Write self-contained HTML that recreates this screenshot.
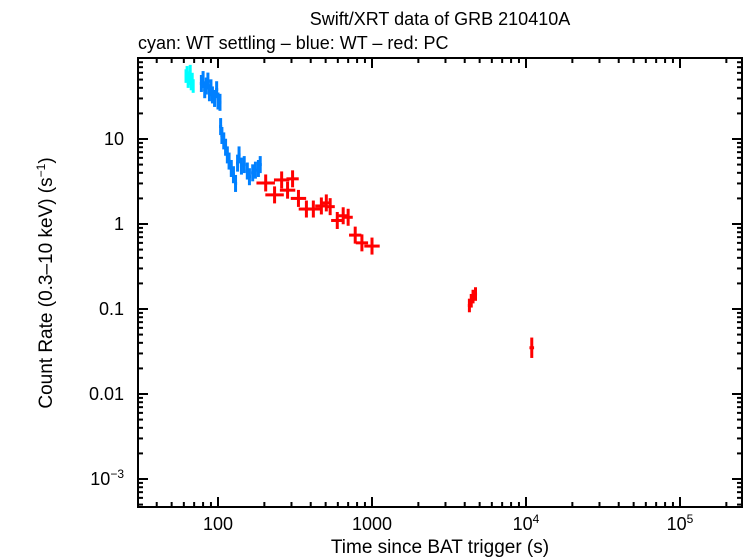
<!DOCTYPE html>
<html><head><meta charset="utf-8"><style>
body{margin:0;background:#fff}
svg{display:block;font-family:"Liberation Sans",sans-serif}
</style></head><body>
<svg id="chart" width="746" height="558" viewBox="0 0 746 558">
<text x="440" y="25" font-size="18" text-anchor="middle">Swift/XRT data of GRB 210410A</text>
<text x="138" y="49" font-size="18">cyan: WT settling – blue: WT – red: PC</text>
<text x="440" y="553" font-size="19" text-anchor="middle">Time since BAT trigger (s)</text>
<text transform="translate(52,283) rotate(-90)" font-size="19" text-anchor="middle">Count Rate (0.3–10 keV) (s<tspan font-size="12" dy="-7">−1</tspan><tspan dy="7">)</tspan></text>
<g id="axes"></g>
<g id="marks"></g>
<rect x="138" y="58" width="604" height="449" fill="none" stroke="#000" stroke-width="2"/>
</svg>
<script>
const cyanT=[62,63,64,65,66,67,68,69];
const cyanR=[55,60,48,52,62,45,50,42];
const blueT=[78,80,82,84,86,88,90,92,95,98,100,103,104,106,109,112,115,118,122,126,130,134,137,142,148,155,160,168,175,183,188];
const blueR=[45,50,38,42,48,35,40,33,30,38,28,27,14,11,9.5,8,6.5,5.5,4.5,3.8,3.0,5.2,6.5,4.8,5,4.2,3.6,4.0,4.3,4.5,5];
const redT=[204,233,259,283,305,333,375,416,469,505,535,595,650,700,778,860,1000,4290,4410,4530,4700,10900];
const redR=[3.04,2.2,3.3,2.5,3.4,2.0,1.5,1.5,1.63,1.77,1.6,1.1,1.25,1.2,0.74,0.6,0.55,0.11,0.125,0.14,0.15,0.035];
const redXe=[0.06,0.06,0.05,0.05,0.04,0.05,0.05,0.05,0.04,0.03,0.03,0.04,0.03,0.03,0.04,0.04,0.05,0.01,0.01,0.01,0.01,0.015];
const redYe=[0.1,0.1,0.1,0.1,0.1,0.1,0.1,0.1,0.1,0.1,0.1,0.1,0.1,0.1,0.1,0.1,0.1,0.08,0.08,0.08,0.08,0.12];
const xTickVals=[100,1000,10000,100000];
const xTickLabels=["100","1000","10^4","10^5"];
const yTickVals=[10,1,0.1,0.01,0.001];
const yTickLabels=["10","1","0.1","0.01","10^-3"];
const X0=138,X1=742,Y0=58,Y1=507;
const lxmin=2-80/154,lxmax=2+524/154;
const lymax=1+81/85,lymin=-3-28/85;
function sx(t){return X0+(Math.log10(t)-lxmin)/(lxmax-lxmin)*(X1-X0);}
function sy(r){return Y1-(Math.log10(r)-lymin)/(lymax-lymin)*(Y1-Y0);}
const NS="http://www.w3.org/2000/svg";
const axes=document.getElementById('axes'),marks=document.getElementById('marks');
function ln(p,x1,y1,x2,y2,c,w){const l=document.createElementNS(NS,'line');l.setAttribute('x1',x1);l.setAttribute('y1',y1);l.setAttribute('x2',x2);l.setAttribute('y2',y2);l.setAttribute('stroke',c);l.setAttribute('stroke-width',w);p.appendChild(l);return l;}
function lbl(x,y,s,anchor){const t=document.createElementNS(NS,'text');t.setAttribute('x',x);t.setAttribute('y',y);t.setAttribute('font-size','18');t.setAttribute('text-anchor',anchor);
 if(s.indexOf('^')>=0){const p=s.split('^');t.appendChild(document.createTextNode(p[0]));const ts=document.createElementNS(NS,'tspan');ts.setAttribute('font-size','12');ts.setAttribute('dy','-7');ts.textContent=p[1].replace('-','−');t.appendChild(ts);}else t.textContent=s;
 axes.appendChild(t);return t;}
for(let d=1;d<=5;d++)for(let m=1;m<10;m++){const v=m*Math.pow(10,d);const x=sx(v);if(x<X0||x>X1)continue;const L=m===1?10:5;
 const a=ln(axes,x,Y1,x,Y1-L,'#000',2);
 const b=ln(axes,x,Y0,x,Y0+L,'#000',2);}
xTickVals.forEach((v,i)=>{const t=lbl(sx(v),530,xTickLabels[i],'middle');});
for(let d=-4;d<=1;d++)for(let m=1;m<10;m++){const v=m*Math.pow(10,d);const y=sy(v);if(y<Y0||y>Y1)continue;const L=m===1?10:5;
 const a=ln(axes,X0,y,X0+L,y,'#000',2);
 const b=ln(axes,X1,y,X1-L,y,'#000',2);}
yTickVals.forEach((v,i)=>{const t=lbl(124,sy(v)+6,yTickLabels[i],'end');});
function series(T,R,xe,ye,color,name){T.forEach((t,i)=>{const g=document.createElementNS(NS,'g');
 
 
 const xel=xe[i],yel=ye[i];
 ln(g,sx(t*Math.pow(10,-xel)),sy(R[i]),sx(t*Math.pow(10,xel)),sy(R[i]),color,3);
 ln(g,sx(t),sy(R[i]*Math.pow(10,yel)),sx(t),sy(R[i]*Math.pow(10,-yel)),color,3);
 marks.appendChild(g);});}
series(cyanT,cyanR,cyanT.map(()=>0.008),cyanT.map(()=>0.08),'#00ffff','wt-settling-point');
series(blueT,blueR,blueT.map(()=>0.01),blueT.map(()=>0.1),'#0080ff','wt-point');
series(redT,redR,redXe,redYe,'#ff0000','pc-point');
</script>
</body></html>
